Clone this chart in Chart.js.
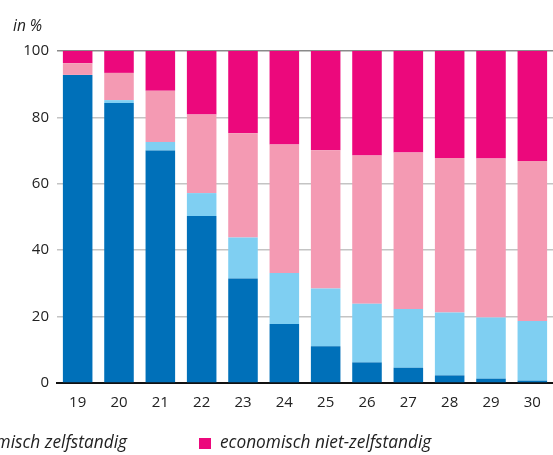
<!DOCTYPE html>
<html lang="nl">
<head>
    <meta charset="UTF-8">
    <title>Aandeel naar leeftijd</title>
    <script src="https://cdn.jsdelivr.net/npm/chart.js"></script>
    <style>
        html, body { margin: 0; padding: 0; background: #fff; }
        body { width: 553px; height: 455px; position: relative; overflow: hidden;
               font-family: "Open Sans", sans-serif; color: #222; }
        #wrap { position: absolute; left: 0; top: 0; width: 553px; height: 455px; }
        .unit { position: absolute; left: 13px; top: 14px; font-style: italic; font-size: 15.5px; }
        .leg { position: absolute; top: 430px; font-style: italic; font-size: 17.3px; white-space: nowrap; }
        .leg i { display: inline-block; width: 12px; height: 11px; margin-right: 9px; vertical-align: -1px; }
    </style>
</head>
<body>
    <div id="wrap"><canvas id="chart" width="553" height="455"></canvas></div>
    <div class="unit">in %</div>
    <div class="leg" style="right: 426px;">economisch zelfstandig</div>
    <div class="leg" style="left: 199px;"><i style="background:#ec087c"></i>economisch niet-zelfstandig</div>

    <script>
        // leeftijden
        const leeftijden = ['19', '20', '21', '22', '23', '24', '25', '26', '27', '28', '29', '30'];

        // aandelen in %, van onder naar boven gestapeld
        const donkerblauw = [92.8, 84.3, 70.0, 50.3, 31.5, 17.8, 11.1, 6.2, 4.6, 2.3, 1.3, 0.7];
        const lichtblauw  = [0.0, 0.9, 2.6, 6.9, 12.3, 15.3, 17.4, 17.7, 17.7, 18.9, 18.4, 18.0];
        const lichtroze   = [3.5, 8.2, 15.4, 23.7, 31.4, 38.7, 41.6, 44.6, 47.1, 46.6, 47.9, 48.2];
        const magenta     = [3.7, 6.6, 12.0, 19.1, 24.8, 28.2, 29.9, 31.5, 30.6, 32.2, 32.4, 33.1];

        const yTicks = [0, 20, 40, 60, 80, 100];

        function ds(label, data, color) {
            return {
                label: label,
                data: data,
                backgroundColor: color,
                borderWidth: 0,
                barPercentage: 0.715,
                categoryPercentage: 1.0
            };
        }

        new Chart(document.getElementById('chart'), {
            type: 'bar',
            data: {
                labels: leeftijden,
                datasets: [
                    ds('in onderwijs', donkerblauw, '#0070b9'),
                    ds('in onderwijs, economisch zelfstandig', lichtblauw, '#7fcff2'),
                    ds('economisch zelfstandig', lichtroze, '#f49ab3'),
                    ds('economisch niet-zelfstandig', magenta, '#ec087c')
                ]
            },
            options: {
                responsive: false,
                animation: false,
                layout: { padding: { top: 51, right: 0, left: 0, bottom: 0 } },
                plugins: {
                    legend: { display: false },
                    tooltip: { enabled: false }
                },
                scales: {
                    x: {
                        stacked: true,
                        grid: { display: false, drawTicks: false },
                        border: { display: true, color: '#111', width: 2 },
                        ticks: {
                            color: '#222',
                            font: { family: 'Open Sans', size: 15 },
                            padding: 11
                        },
                        afterFit: function (scale) { scale.height = 72; }
                    },
                    y: {
                        stacked: true,
                        min: 0,
                        max: 100,
                        afterBuildTicks: function (scale) {
                            scale.ticks = yTicks.map(v => ({ value: v }));
                        },
                        grid: {
                            drawTicks: false,
                            lineWidth: 1.5,
                            color: ctx => ctx.tick && ctx.tick.value === 100 ? '#8a8a8a' : '#c4c4c4'
                        },
                        border: { display: false },
                        ticks: {
                            color: '#222',
                            font: { family: 'Open Sans', size: 15 },
                            padding: 8
                        },
                        afterFit: function (scale) { scale.width = 57; }
                    }
                }
            }
        });
    </script>
</body>
</html>
